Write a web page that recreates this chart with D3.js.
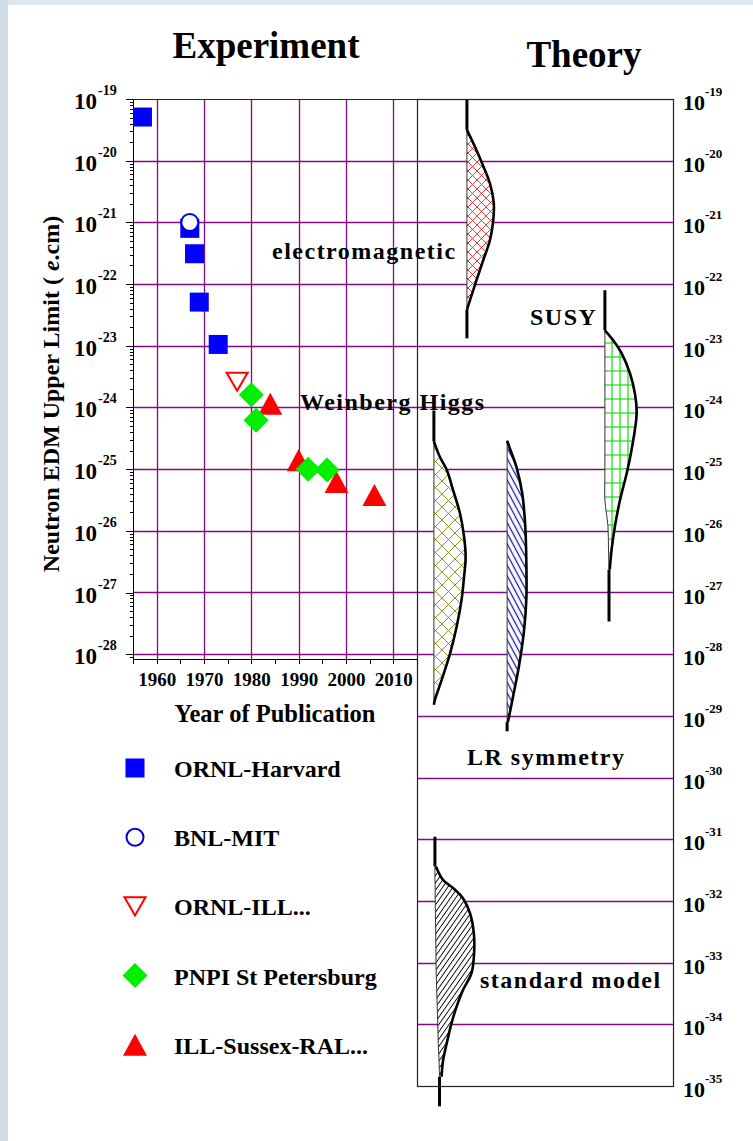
<!DOCTYPE html>
<head>
  <meta charset="utf-8">
  <style>
    body { margin: 0; background: #fff; }
    svg text {
      font-family: "Liberation Serif", "Times New Roman", serif;
      font-weight: bold;
      fill: #000;
    }
    .axis path,
    .axis line {
      stroke: #000;
      shape-rendering: crispEdges;
    }
    .grid line {
      stroke: #820a82;
      stroke-width: 1.3;
    }
  </style>
  <script src="https://d3js.org/d3.v7.min.js" charset="utf-8"></script>
</head>
<body>
  <script>

    // ---- experiment: year of publication / upper limit (e.cm)
    const ornlHarvardYear = [1957, 1967, 1968, 1969, 1973];
    const ornlHarvardEdm  = [5.1e-20, 8e-22, 3.1e-22, 5.1e-23, 1.05e-23];
    const bnlMitYear = [1967];
    const bnlMitEdm  = [1.0e-21];
    const ornlIllYear = [1977];
    const ornlIllEdm  = [2.6e-24];
    const pnpiYear = [1980, 1981, 1992, 1996];
    const pnpiEdm  = [1.6e-24, 6.2e-25, 1.0e-25, 0.97e-25];
    const illSussexYear = [1984, 1990, 1998, 2006];
    const illSussexEdm  = [1.15e-24, 1.4e-25, 6.2e-26, 3.8e-26];

    const yearTicks = [1960, 1970, 1980, 1990, 2000, 2010];
    const leftExponents = d3.range(-19, -29, -1);   // 10^-19 .. 10^-28
    const rightExponents = d3.range(-19, -36, -1);  // 10^-19 .. 10^-35

    // ---- theory: predicted ranges, [log10 d, left edge, right edge] in panel units (panel = 100)
    const emProfile = [[-19.50, 0, 0], [-19.77, 0, 3.1], [-20.02, 0, 5.7], [-20.37, 0, 9.0], [-20.69, 0, 10.5],
      [-20.96, 0, 10.3], [-21.29, 0, 9.0], [-21.61, 0, 6.4], [-21.93, 0, 3.8], [-22.26, 0, 1.2], [-22.42, 0, 0]];
    const susyProfile = [[-22.75, 0, 0], [-22.91, 0, 3.2], [-23.12, 0, 6.5], [-23.45, 0, 9.8], [-23.77, 0, 11.7],
      [-24.10, 0, 12.4], [-24.69, 0, 10.4], [-25.07, 0, 8.5], [-25.50, 0, 5.9], [-25.93, 1.2, 3.9],
      [-26.31, 1.4, 2.6], [-26.63, 1.6, 1.9]];
    const higgsProfile = [[-24.55, 0, 0], [-24.80, 0, 2.3], [-25.01, 0, 5.0], [-25.34, 0, 7.5], [-25.72, 0, 10.2],
      [-26.10, 0, 11.8], [-26.42, 0, 12.4], [-26.74, 0, 11.8], [-27.12, 0, 10.8], [-27.55, 0, 8.9],
      [-27.99, 0, 6.3], [-28.42, 0, 3.0], [-28.74, 0, 0.4], [-28.82, 0, 0]];
    const lrProfile = [[-24.54, 0, 0], [-24.69, 0, 1.3], [-24.96, 0, 3.6], [-25.39, 0, 5.9], [-25.93, 0, 7.1],
      [-26.47, 0, 7.5], [-27.12, 0, 7.5], [-27.66, 0, 6.5], [-28.20, 0, 4.6], [-28.63, 0, 2.6],
      [-28.96, 0, 1.0], [-29.10, 0, 0.3]];
    const smProfile = [[-31.44, 0.4, 0.8], [-31.66, 0.4, 3.6], [-31.79, 0.5, 7.5], [-31.96, 0.5, 11.4],
      [-32.20, 0.6, 14.1], [-32.52, 0.7, 15.6], [-32.85, 0.8, 15.7], [-33.17, 0.9, 14.7], [-33.44, 1.1, 11.4],
      [-33.71, 1.3, 8.9], [-33.98, 1.5, 6.9], [-34.31, 1.7, 5.0], [-34.58, 2.0, 3.6], [-34.85, 2.2, 3.0]];

    const theoryNames   = ['electromagnetic', 'SUSY', 'Weinberg Higgs', 'LR symmetry', 'standard model'];
    const theoryColumns = [19.5, 73.4, 6.6, 35.2, 6.6];
    const theoryTop     = [-19.0, -22.10, -24.05, -24.54, -30.96];
    const theoryBottom  = [-22.88, -27.47, -28.82, -29.25, -35.33];

    const w = 753, h = 1141;
    const plotLeft = 133, plotRight = 417, panelRight = 673;
    const plotTop = 99, panelBottom = 1086;

    const svg = d3.select('body').append('svg')
          .attr('width', w)
          .attr('height', h);

    // slide frame
    svg.append('rect').attr('width', w).attr('height', h).attr('fill', '#fff');
    svg.append('rect').attr('width', w).attr('height', 5).attr('fill', '#dfe7ee');
    svg.append('rect').attr('width', 8).attr('height', h).attr('fill', '#d3dde6');

    const yScale = d3.scaleLog()
                    .domain([1e-35, 1e-19])
                    .range([panelBottom, plotTop]);
    const leftMin = Math.pow(10, -28.08);
    const yLeft = d3.scaleLog()
                    .domain([leftMin, 1e-19])
                    .range([yScale(leftMin), plotTop]);
    const xScale = d3.scaleLinear()
                    .domain([1955, 2015])
                    .range([plotLeft, plotRight]);
    const tScale = d3.scaleLinear()
                    .domain([0, 100])
                    .range([plotRight, panelRight]);
    const plotBottom = Math.round(yLeft(leftMin)) + 0.5;
    const ey = (e) => yScale(Math.pow(10, e));
    const gy = (e) => Math.round(ey(e)) + 0.5;   // pixel-aligned grid position

    // hatch patterns
    const defs = svg.append('defs');
    function pattern(id, pw, ph, color, sw, paths, rotate) {
      const p = defs.append('pattern')
          .attr('id', id)
          .attr('patternUnits', 'userSpaceOnUse')
          .attr('width', pw)
          .attr('height', ph);
      if (rotate) p.attr('patternTransform', `rotate(${rotate})`);
      p.append('rect').attr('width', pw).attr('height', ph).attr('fill', '#fff');
      paths.forEach(d => p.append('path').attr('d', d)
          .attr('fill', 'none').attr('stroke', color).attr('stroke-width', sw));
    }
    const cross = (s) => [`M-1,-1L${s + 1},${s + 1}`, `M${s + 1},-1L-1,${s + 1}`];
    pattern('hatch-em', 9, 9, '#e01010', 0.8, cross(9));
    pattern('hatch-higgs', 13, 13, '#8a8a1a', 0.9, cross(13));
    pattern('hatch-susy', 8, 14, '#10e010', 1.2, ['M4,0V14', 'M0,7H8']);
    pattern('hatch-lr', 5, 5, '#1a1a9a', 1.3, ['M0,2.5H5'], 62);
    pattern('hatch-sm', 4.2, 4.2, '#000', 0.9, ['M0,2.1H4.2'], -55);
    const theoryFills = ['url(#hatch-em)', 'url(#hatch-susy)', 'url(#hatch-higgs)', 'url(#hatch-lr)', 'url(#hatch-sm)'];
    const theoryProfiles = [emProfile, susyProfile, higgsProfile, lrProfile, smProfile];

    // grid lines
    const grid = svg.append('g').attr('class', 'grid');
    grid.selectAll('.hl')
        .data(leftExponents.slice(1))
        .enter().append('line')
        .attr('x1', plotLeft).attr('x2', plotRight)
        .attr('y1', gy).attr('y2', gy);
    grid.selectAll('.hr')
        .data(rightExponents.slice(1, -1))
        .enter().append('line')
        .attr('x1', plotRight).attr('x2', panelRight)
        .attr('y1', gy).attr('y2', gy);
    grid.selectAll('.v')
        .data(yearTicks)
        .enter().append('line')
        .attr('x1', (d) => Math.round(xScale(d)) + 0.5).attr('x2', (d) => Math.round(xScale(d)) + 0.5)
        .attr('y1', plotTop).attr('y2', plotBottom);

    // theory shapes
    const theory = theoryNames.map((name, i) => ({
      name, col: theoryColumns[i], top: theoryTop[i], bottom: theoryBottom[i],
      profile: theoryProfiles[i], fill: theoryFills[i]
    }));
    const tg = svg.append('g').attr('id', 'theory');
    theory.forEach(t => {
      const area = d3.area()
          .y(d => ey(d[0]))
          .x0(d => tScale(t.col + d[1]))
          .x1(d => tScale(t.col + d[2]))
          .curve(d3.curveCatmullRom);
      const rightEdge = d3.line()
          .x(d => tScale(t.col + d[2]))
          .y(d => ey(d[0]))
          .curve(d3.curveCatmullRom);
      const leftEdge = d3.line()
          .x(d => tScale(t.col + d[1]))
          .y(d => ey(d[0]))
          .curve(d3.curveCatmullRom);
      tg.append('path').attr('d', area(t.profile)).attr('fill', t.fill);
      tg.append('path').attr('d', leftEdge(t.profile))
          .attr('fill', 'none').attr('stroke', '#333').attr('stroke-width', 1);
      tg.append('path').attr('d', rightEdge(t.profile))
          .attr('fill', 'none').attr('stroke', '#000').attr('stroke-width', 2.6);
      const first = t.profile[0], last = t.profile[t.profile.length - 1];
      tg.append('line')
          .attr('x1', tScale(t.col + first[1])).attr('x2', tScale(t.col + first[1]))
          .attr('y1', ey(t.top)).attr('y2', ey(first[0]))
          .attr('stroke', '#000').attr('stroke-width', 3);
      tg.append('line')
          .attr('x1', tScale(t.col + last[1])).attr('x2', tScale(t.col + last[1]))
          .attr('y1', ey(last[0])).attr('y2', ey(t.bottom))
          .attr('stroke', '#000').attr('stroke-width', 3);
    });

    // frames
    svg.append('rect')
        .attr('x', plotRight + 0.5).attr('y', plotTop + 0.5)
        .attr('width', panelRight - plotRight).attr('height', panelBottom - plotTop)
        .attr('fill', 'none').attr('stroke', '#222').attr('stroke-width', 1.2);
    svg.append('line')
        .attr('x1', plotLeft).attr('x2', plotRight).attr('y1', plotTop + 0.5).attr('y2', plotTop + 0.5)
        .attr('stroke', '#222').attr('stroke-width', 1.2);

    // axes of the experiment plot
    const isDecade = (v) => Math.abs(Math.log10(v) - Math.round(Math.log10(v))) < 1e-6;
    const minorTicks = yLeft.ticks().filter(v => !isDecade(v));
    svg.append('g')
       .attr('class', 'y axis')
       .attr('transform', `translate(${plotLeft}, 0)`)
       .call(d3.axisLeft(yLeft).tickValues(minorTicks).tickSize(3).tickSizeOuter(0).tickFormat(''));
    svg.append('g')
       .attr('class', 'y axis')
       .attr('transform', `translate(${plotLeft}, 0)`)
       .call(d3.axisLeft(yLeft).tickValues(leftExponents.map(e => Math.pow(10, e)))
          .tickSize(7).tickSizeOuter(0).tickFormat(''));

    const xAxis = d3.axisBottom(xScale)
        .tickValues(d3.range(1955, 2016, 5))
        .tickSize(5)
        .tickSizeOuter(0)
        .tickPadding(9)
        .tickFormat(d => (d % 10 === 0 && d > 1955 && d < 2015) ? d : '');
    svg.append('g')
       .attr('class', 'x axis')
       .attr('transform', `translate(0, ${plotBottom - 0.5})`)
       .call(xAxis)
       .selectAll('text')
       .style('font-size', '19px');

    // power-of-ten labels
    const leftLab = svg.append('g');
    leftExponents.forEach(e => {
      leftLab.append('text').attr('x', 97).attr('y', ey(e) + 10)
          .attr('text-anchor', 'end').style('font-size', '23px').text('10');
      leftLab.append('text').attr('x', 98).attr('y', ey(e) - 4)
          .style('font-size', '14px').text(e);
    });
    const rightLab = svg.append('g');
    rightExponents.forEach(e => {
      rightLab.append('text').attr('x', 683).attr('y', ey(e) + 11)
          .style('font-size', '22px').text('10');
      rightLab.append('text').attr('x', 705).attr('y', ey(e) - 3)
          .style('font-size', '13px').text(e);
    });

    // experiment markers
    const triUp = { draw(ctx, size) {
      const s = Math.sqrt(size), hh = s * 0.46;
      ctx.moveTo(0, -hh); ctx.lineTo(s / 2, hh); ctx.lineTo(-s / 2, hh); ctx.closePath();
    } };
    const triDown = { draw(ctx, size) {
      const s = Math.sqrt(size), hh = s * 0.43;
      ctx.moveTo(0, hh); ctx.lineTo(s / 2, -hh); ctx.lineTo(-s / 2, -hh); ctx.closePath();
    } };
    const diamond = { draw(ctx, size) {
      const r = Math.sqrt(size) / 2;
      ctx.moveTo(0, -r); ctx.lineTo(r, 0); ctx.lineTo(0, r); ctx.lineTo(-r, 0); ctx.closePath();
    } };

    const series = [
      { name: 'ORNL-Harvard', years: ornlHarvardYear, edm: ornlHarvardEdm, type: d3.symbolSquare,
        size: 19 * 19, fill: '#0000ff', stroke: 'none', sw: 0 },
      { name: 'BNL-MIT', years: bnlMitYear, edm: bnlMitEdm, type: d3.symbolCircle,
        size: Math.PI * 8.5 * 8.5, fill: '#fff', stroke: '#0000e0', sw: 2 },
      { name: 'ORNL-ILL...', years: ornlIllYear, edm: ornlIllEdm, type: triDown,
        size: 21 * 21, fill: '#fff', stroke: '#ff0000', sw: 2 },
      { name: 'PNPI St Petersburg', years: pnpiYear, edm: pnpiEdm, type: diamond,
        size: 25 * 25, fill: '#00ee00', stroke: 'none', sw: 0 },
      { name: 'ILL-Sussex-RAL...', years: illSussexYear, edm: illSussexEdm, type: triUp,
        size: 24 * 24, fill: '#ff0000', stroke: 'none', sw: 0 }
    ];
    const drawOrder = [0, 1, 4, 2, 3];
    const marks = svg.append('g').attr('id', 'marks');
    drawOrder.forEach(i => {
      const s = series[i];
      marks.append('g').selectAll('path')
          .data(s.years.map((yr, j) => [yr, s.edm[j]]))
          .enter().append('path')
          .attr('transform', d => `translate(${xScale(d[0])}, ${yScale(d[1])})`)
          .attr('d', d3.symbol().type(s.type).size(s.size))
          .attr('fill', s.fill)
          .attr('stroke', s.stroke)
          .attr('stroke-width', s.sw);
    });

    // legend
    const legend = svg.append('g').attr('id', 'legend');
    series.forEach((s, i) => {
      const ly = 768 + i * 69.2;
      legend.append('path')
          .attr('transform', `translate(135, ${ly})`)
          .attr('d', d3.symbol().type(s.type).size(s.size))
          .attr('fill', s.fill).attr('stroke', s.stroke).attr('stroke-width', s.sw);
      legend.append('text')
          .attr('x', 174).attr('y', ly + 9)
          .style('font-size', '24px')
          .text(s.name);
    });

    // theory labels
    const theoryLabelPos = [[272, 259], [530, 325], [300, 410], [467, 765], [480, 988]];
    svg.append('g').selectAll('text')
        .data(theory)
        .enter().append('text')
        .attr('x', (d, i) => theoryLabelPos[i][0])
        .attr('y', (d, i) => theoryLabelPos[i][1])
        .style('font-size', '24px')
        .style('letter-spacing', '1.5px')
        .text(d => d.name);

    // titles
    svg.append('text').attr('x', 266).attr('y', 58).attr('text-anchor', 'middle')
        .style('font-size', '37px').text('Experiment');
    svg.append('text').attr('x', 584).attr('y', 67).attr('text-anchor', 'middle')
        .style('font-size', '37px').text('Theory');
    svg.append('text').attr('x', 275).attr('y', 722).attr('text-anchor', 'middle')
        .style('font-size', '24.5px').text('Year of Publication');
    const yTitle = svg.append('text')
        .attr('transform', 'translate(59, 394) rotate(-90)')
        .attr('text-anchor', 'middle')
        .style('font-size', '24px');
    yTitle.append('tspan').text('Neutron EDM Upper Limit ( ');
    yTitle.append('tspan').style('font-style', 'italic').text('e');
    yTitle.append('tspan').text('.cm)');

  </script>
</body>
